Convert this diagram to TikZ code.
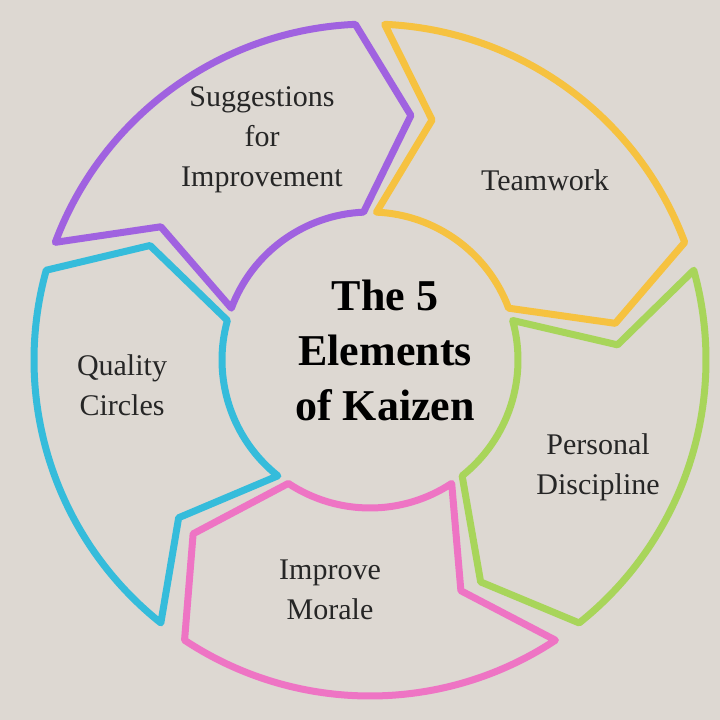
\documentclass[tikz,border=0pt]{standalone}
\usepackage{fontspec}
\setmainfont{Liberation Serif}
\begin{document}
\begin{tikzpicture}[x=1pt,y=1pt,
  seg/.style={line width=7pt,line join=round},
  lab/.style={align=center,font=\fontsize{30}{40}\selectfont,text=black!85}]
\definecolor{bg}{HTML}{DDD8D2}
\definecolor{cC}{HTML}{35BCDB}
\definecolor{cP}{HTML}{A062E0}
\definecolor{cY}{HTML}{F6C240}
\definecolor{cG}{HTML}{A8D55A}
\definecolor{cK}{HTML}{EE74C4}
\fill[bg] (0,0) rectangle (720,-720);
\useasboundingbox (0,0) rectangle (720,-720);
\begin{scope}[shift={(370,-360)}]
\foreach \s/\c in {231.5/cC,159.5/cP,87.5/cY,15.5/cG,-56.5/cK}{
  \pgfmathsetmacro\e{\s-67}
  \pgfmathsetmacro\h{\e-12}
  \pgfmathsetmacro\n{\s-12}
  \draw[seg,draw=\c] (\s:336) arc[start angle=\s,end angle=\e,radius=336]
    -- (\h:248) -- (\e:148) arc[start angle=\e,end angle=\s,radius=148]
    -- (\n:248) -- cycle;
}
\end{scope}
\node[lab,font=\fontsize{44}{55}\selectfont\bfseries,text=black] (center) at (385,-350) {The 5\\Elements\\of Kaizen};
\node[lab] (sug) at (262,-140) {Suggestions\\for\\Improvement};
\node[lab] (team) at (545,-180) {Teamwork};
\node[lab] (qual) at (122,-385) {Quality\\Circles};
\node[lab] (pers) at (598,-467) {Personal\\Discipline};
\node[lab] (mor) at (330,-590) {Improve\\Morale};
\end{tikzpicture}
\end{document}
